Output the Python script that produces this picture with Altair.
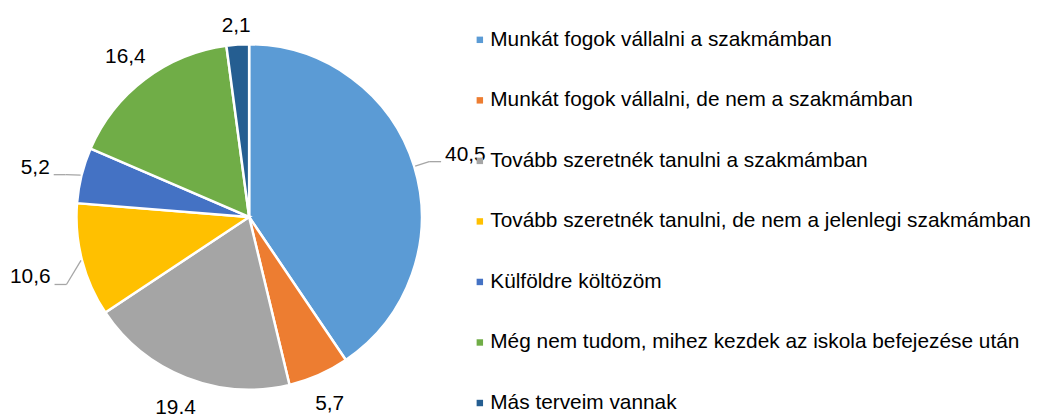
import altair as alt
import pandas as pd

# ---- data -----------------------------------------------------------------
categories = [
    "Munkát fogok vállalni a szakmámban",
    "Munkát fogok vállalni, de nem a szakmámban",
    "Tovább szeretnék tanulni a szakmámban",
    "Tovább szeretnék tanulni, de nem a jelenlegi szakmámban",
    "Külföldre költözöm",
    "Még nem tudom, mihez kezdek az iskola befejezése után",
    "Más terveim vannak",
]
values = [40.5, 5.7, 19.4, 10.6, 5.2, 16.4, 2.1]

# ---- styles ---------------------------------------------------------------
colors = ["#5B9BD5", "#ED7D31", "#A5A5A5", "#FFC000", "#4472C4", "#70AD47", "#255E91"]
pulled = [1, 0, 0, 1, 1, 0, 0]  # labels drawn further out with a leader line

df = pd.DataFrame({
    "idx": list(range(len(values))),
    "category": categories,
    "value": values,
    "pulled": pulled,
})

W, H = 1038, 406
CX, CY, R = 243, 209, 174
FS = 21
LFS = 21
FONT = "Liberation Sans"

base = alt.Chart(df)

pie = base.mark_arc(radius=R, stroke="white", strokeWidth=2.5).encode(
    theta=alt.Theta("value:Q", stack=True),
    order=alt.Order("idx:Q", sort="ascending"),
    color=alt.Color(
        "category:N",
        scale=alt.Scale(domain=categories, range=colors),
        sort=categories,
        legend=alt.Legend(
            title=None,
            orient="none",
            legendX=465,
            legendY=20,
            padding=0,
            symbolType="square",
            symbolSize=42,
            symbolStrokeWidth=0,
            labelFont=FONT,
            labelFontSize=LFS,
            labelColor="black",
            labelOffset=0,
            labelLimit=700,
            rowPadding=39,
        ),
    ),
    x=alt.value(CX),
    y=alt.value(CY),
)

geo = base.transform_window(
    cum="sum(value)", sort=[alt.SortField("idx", order="ascending")], frame=[None, 0]
).transform_joinaggregate(
    total="sum(value)"
).transform_calculate(
    ang="2*PI*(datum.cum - datum.value/2)/datum.total",
    label="replace(format(datum.value, '.1f'), '.', ',')",
).transform_calculate(
    hw=f"((length(datum.label)-1)*{0.556*FS} + {0.278*FS})/2",
    side="sin(datum.ang) >= 0 ? 1 : -1",
).transform_calculate(
    r=f"{R} + 14 + abs(sin(datum.ang))*datum.hw + abs(cos(datum.ang))*8 + datum.pulled*18",
).transform_calculate(
    lx=f"{CX} + datum.r*sin(datum.ang)",
    ly=f"{CY} - datum.r*cos(datum.ang)",
    px=f"{CX} + {R + 1}*sin(datum.ang)",
    py=f"{CY} - {R + 1}*cos(datum.ang)",
).transform_calculate(
    e1x="datum.lx - datum.side*(datum.hw + 4)",
    e2x="datum.lx - datum.side*(datum.hw + 16)",
    ey="datum.ly + 11",
)

labels = geo.mark_text(font=FONT, fontSize=FS, color="black", align="center", baseline="middle", dy=4).encode(
    x=alt.X("lx:Q", scale=None, axis=None),
    y=alt.Y("ly:Q", scale=None, axis=None),
    text="label:N",
)

lead_h = geo.transform_filter("datum.pulled == 1").mark_rule(color="#A6A6A6", strokeWidth=1.3).encode(
    x=alt.X("e1x:Q", scale=None, axis=None),
    x2="e2x:Q",
    y=alt.Y("ey:Q", scale=None, axis=None),
    y2="ey:Q",
)
lead_d = geo.transform_filter("datum.pulled == 1").mark_rule(color="#A6A6A6", strokeWidth=1.3).encode(
    x=alt.X("e2x:Q", scale=None, axis=None),
    x2="px:Q",
    y=alt.Y("ey:Q", scale=None, axis=None),
    y2="py:Q",
)

chart = alt.layer(pie, lead_h, lead_d, labels).properties(
    width=W, height=H, padding=0, autosize=alt.AutoSizeParams(type="none")
).configure_view(stroke=None)

chart.save("out.html", embed_options={"renderer": "svg", "actions": False})
